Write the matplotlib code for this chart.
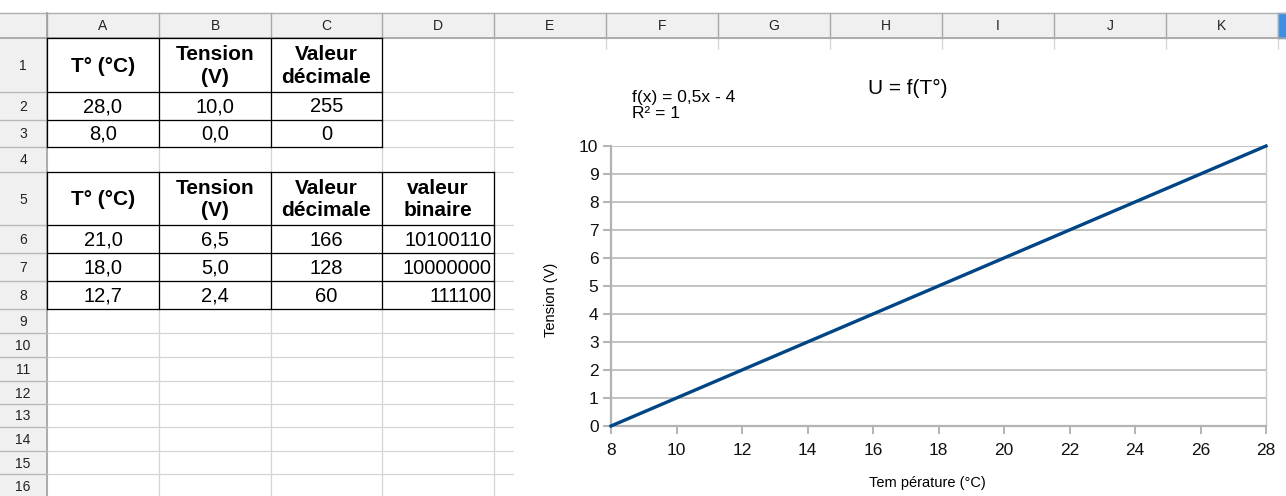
import matplotlib
matplotlib.use("Agg")
import matplotlib.pyplot as plt
from matplotlib.patches import Rectangle

plt.rcParams['font.family'] = ['Liberation Sans', 'DejaVu Sans']

# Sheet content
col_letters = ['A', 'B', 'C', 'D', 'E', 'F', 'G', 'H', 'I', 'J', 'K']
row_numbers = list(range(1, 17))

head_1 = ['T° (°C)', 'Tension\n(V)', 'Valeur\ndécimale']
temp_1 = [28.0, 8.0]
tension_1 = [10.0, 0.0]
decimal_1 = [255, 0]

head_2 = ['T° (°C)', 'Tension\n(V)', 'Valeur\ndécimale', 'valeur\nbinaire']
temp_2 = [21.0, 18.0, 12.7]
tension_2 = [6.5, 5.0, 2.4]
decimal_2 = [166, 128, 60]
binary_2 = ['10100110', '10000000', '111100']

# Chart content
chart_title = 'U = f(T°)'
fit_lines = ['f(x) = 0,5x - 4', 'R² = 1']
x_label = 'Tem pérature (°C)'
y_label = 'Tension (V)'
x_ticks = list(range(8, 29, 2))
y_ticks = list(range(0, 11))

# Layout in pixels
W, H = 1286, 496
col_edges = [0, 47, 159, 271, 382, 494, 606, 718, 830, 942, 1054, 1166, 1278]
row_edges = [38, 92, 120, 147, 172, 225, 253, 281, 309, 333, 357, 381, 404, 427, 451, 474, 498]
head_top, head_bot = 13, 38


def fr(v):
    return f"{v:.1f}".replace('.', ',')


fig = plt.figure(figsize=(W / 100, H / 100), dpi=100)
sheet = fig.add_axes([0, 0, 1, 1])
sheet.set_xlim(0, W)
sheet.set_ylim(H, 0)
sheet.axis('off')

# header backgrounds
sheet.add_patch(Rectangle((0, head_top), W, head_bot - head_top, color='#f0f0f0', zorder=0))
sheet.add_patch(Rectangle((0, head_bot), col_edges[1], H - head_bot, color='#f0f0f0', zorder=0))
sheet.add_patch(Rectangle((1278, head_top), 8, head_bot - head_top, color='#3d8fe6', zorder=2))

# light cell grid
for x in col_edges[2:]:
    sheet.plot([x, x], [head_bot, H], color='#d4d4d4', lw=0.9, zorder=1)
for y in row_edges[1:]:
    sheet.plot([col_edges[1], W], [y, y], color='#d4d4d4', lw=0.9, zorder=1)

# header lines
sheet.plot([0, W], [head_top, head_top], color='#b0b0b0', lw=1, zorder=2)
sheet.plot([0, W], [head_bot, head_bot], color='#a0a0a0', lw=1.2, zorder=2)
for x in col_edges[1:]:
    sheet.plot([x, x], [head_top, head_bot], color='#a8a8a8', lw=1, zorder=2)
sheet.plot([col_edges[1], col_edges[1]], [head_top, H], color='#a0a0a0', lw=1.2, zorder=2)
for y in row_edges[1:]:
    sheet.plot([0, col_edges[1]], [y, y], color='#b8b8b8', lw=1, zorder=2)

for i, c in enumerate(col_letters):
    sheet.text((col_edges[i + 1] + col_edges[i + 2]) / 2, 26, c, ha='center', va='center',
               fontsize=10, color='#222222', zorder=3)
for i, r in enumerate(row_numbers):
    sheet.text(23, (row_edges[i] + row_edges[i + 1]) / 2 + 1, str(r), ha='center', va='center',
               fontsize=10, color='#222222', zorder=3)


def table(rows, first_row, ncols, right_cols=()):
    x0, x1 = col_edges[1], col_edges[1 + ncols]
    y0, y1 = row_edges[first_row], row_edges[first_row + len(rows)]
    for x in col_edges[1:2 + ncols]:
        sheet.plot([x, x], [y0, y1], color='black', lw=0.9, zorder=4)
    for y in row_edges[first_row:first_row + len(rows) + 1]:
        sheet.plot([x0, x1], [y, y], color='black', lw=0.9, zorder=4)
    for ri, row in enumerate(rows):
        yc = (row_edges[first_row + ri] + row_edges[first_row + ri + 1]) / 2
        for ci, val in enumerate(row):
            xl, xr = col_edges[1 + ci], col_edges[2 + ci]
            bold = ri == 0
            if ci in right_cols and not bold:
                sheet.text(xr - 2, yc + 1, val, ha='right', va='center', fontsize=14.5, zorder=5)
            else:
                sheet.text((xl + xr) / 2, yc + 1, val, ha='center', va='center',
                           fontsize=15 if bold else 14.5,
                           fontweight='bold' if bold else 'normal', linespacing=1.25, zorder=5)


rows_1 = [head_1] + [[fr(t), fr(u), str(d)] for t, u, d in zip(temp_1, tension_1, decimal_1)]
rows_2 = [head_2] + [[fr(t), fr(u), str(d), b] for t, u, d, b in zip(temp_2, tension_2, decimal_2, binary_2)]
table(rows_1, 0, 3)
table(rows_2, 4, 4, right_cols=(3,))

# chart object background
sheet.add_patch(Rectangle((514, 50), W - 514, H - 50, color='white', zorder=6))

# chart
ax = fig.add_axes([611 / W, (H - 426) / H, 655 / W, 280 / H])
ax.set_zorder(10)
ax.patch.set_alpha(0)
ax.plot(temp_1, tension_1, color='#004586', lw=2.4, zorder=5, clip_on=False)
ax.set_xlim(8, 28)
ax.set_ylim(0, 10)
ax.set_xticks(x_ticks)
ax.set_yticks(y_ticks)
ax.grid(axis='y', color='#b3b3b3', lw=1.1)
ax.set_axisbelow(True)
for s in ['left', 'bottom']:
    ax.spines[s].set_color('#b3b3b3')
    ax.spines[s].set_linewidth(1.6)
ax.spines['right'].set_color('#c8c8c8')
ax.spines['right'].set_linewidth(1.0)
ax.spines['top'].set_visible(False)
ax.tick_params(axis='both', length=6, width=1.4, color='#b3b3b3', labelsize=12.5, labelcolor='#111111')
ax.tick_params(axis='x', pad=6)
ax.tick_params(axis='y', pad=3)

fig.text(908 / W, 1 - 88 / H, chart_title, ha='center', va='center', fontsize=15)
fig.text(632 / W, 1 - 98 / H, fit_lines[0], ha='left', va='center', fontsize=12.5)
fig.text(632 / W, 1 - 114 / H, fit_lines[1], ha='left', va='center', fontsize=12.5)
fig.text(551 / W, 1 - 300 / H, y_label, ha='center', va='center', rotation=90, fontsize=10.5)
fig.text(927 / W, 1 - 483 / H, x_label, ha='center', va='center', fontsize=10.5)

fig.savefig('out.png', dpi=100)
